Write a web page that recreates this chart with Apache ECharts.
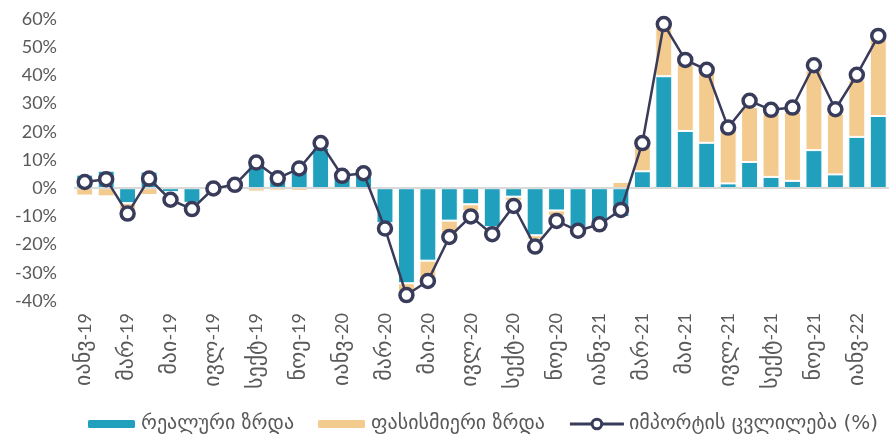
<!DOCTYPE html>
<html>
<head>
<meta charset="utf-8">
<script src="https://cdn.jsdelivr.net/npm/echarts@6/dist/echarts.min.js"></script>
<style>
  html, body { margin: 0; padding: 0; background: #fff; }
  #chart { width: 889px; height: 447px; }
</style>
</head>
<body>
<div id="chart"></div>
<script>
(function () {
  'use strict';

  // თვეები (იანვ-19 ... თებ-22)
  var months = ['იანვ', 'თებ', 'მარ', 'აპრ', 'მაი', 'ივნ', 'ივლ', 'აგვ', 'სექტ', 'ოქტ', 'ნოე', 'დეკ'];
  var categories = [];
  ['19', '20', '21', '22'].forEach(function (yr) {
    months.forEach(function (m) { categories.push(m + '-' + yr); });
  });
  categories = categories.slice(0, 38);

  // რეალური ზრდა
  var realGrowth = [4.8, 6.2, -5.3, 5.9, -1.4, -5.2, 0.5, 1.5, 8.3, 3.0, 6.0, 14.4,
    4.0, 4.5, -12.4, -33.7, -25.7, -11.5, -5.7, -13.8, -3.0, -16.7, -7.9, -14.0,
    -13.5, -10.2, 6.0, 39.7, 20.3, 16.1, 1.7, 9.3, 4.0, 2.6, 13.5, 4.9,
    18.2, 25.6];

  // ფასისმიერი ზრდა
  var priceGrowth = [-2.6, -2.9, -2.5, -2.4, -0.5, -0.8, -0.6, -0.7, -1.2, -0.9, -1.0, 0,
    0, 0, -0.8, -3.0, -6.8, -5.5, -2.5, -1.0, -1.5, -1.5, -2.0, -0.5,
    0.8, 2.2, 9.0, 18.5, 23.9, 25.1, 18.9, 19.5, 22.5, 24.5, 28.3, 21.6,
    20.1, 27.5];

  // იმპორტის ცვლილება (%)
  var importChange = [2.2, 3.2, -9.0, 3.4, -4.1, -7.4, -0.1, 1.2, 9.1, 3.5, 7.0, 16.0,
    4.4, 5.3, -14.3, -37.9, -32.9, -17.3, -10.0, -16.3, -6.3, -20.7, -11.6, -15.1,
    -12.8, -7.7, 16.0, 58.2, 45.5, 42.0, 21.5, 31.0, 27.8, 28.6, 43.6, 28.0,
    40.2, 54.0];

  var seriesNames = ['რეალური ზრდა', 'ფასისმიერი ზრდა', 'იმპორტის ცვლილება (%)'];

  var font = 'Lato, "DejaVu Sans", sans-serif';
  var geoFont = '"DejaVu Sans", sans-serif';
  var lineColor = '#383b5a';
  var myChart = echarts.init(document.getElementById('chart'));

  var legendText = { fontSize: 20, color: '#595959', fontFamily: geoFont };

  var option = {
    animation: false,
    color: ['#21a0bd', '#f3cb8f', lineColor],
    textStyle: { fontFamily: font },
    grid: { left: 74, right: 0, top: 19, bottom: 146 },
    legend: [
      {
        left: 81,
        bottom: 8,
        itemWidth: 49,
        itemHeight: 10,
        itemGap: 22,
        textStyle: legendText,
        data: [seriesNames[0], seriesNames[1]]
      },
      {
        right: 6,
        bottom: 8,
        itemWidth: 54,
        itemHeight: 12,
        textStyle: legendText,
        data: [{
          name: seriesNames[2],
          itemStyle: { color: '#fff', borderColor: lineColor, borderWidth: 3 },
          lineStyle: { width: 3, color: lineColor }
        }]
      }
    ],
    xAxis: {
      type: 'category',
      data: categories,
      axisLine: { show: false, onZero: false },
      axisTick: { show: false },
      axisLabel: {
        interval: 1,
        rotate: 90,
        margin: 12,
        color: '#595959',
        formatter: function (v) {
          var i = v.lastIndexOf('-');
          return '{g|' + v.slice(0, i) + '}{d|' + v.slice(i) + '}';
        },
        rich: {
          g: { fontSize: 22, fontFamily: geoFont, color: '#595959' },
          d: { fontSize: 18, fontFamily: font, color: '#595959' }
        }
      }
    },
    yAxis: {
      type: 'value',
      min: -40,
      max: 60,
      interval: 10,
      axisLine: { show: false },
      axisTick: { show: false },
      splitLine: { show: false },
      axisLabel: {
        formatter: '{value}%',
        fontSize: 18,
        color: '#595959',
        margin: 17
      }
    },
    series: [
      {
        name: seriesNames[0],
        type: 'bar',
        stack: 'total',
        barWidth: '79%',
        data: realGrowth,
        itemStyle: { borderColor: '#fff', borderWidth: 1 },
        markLine: {
          silent: true,
          symbol: 'none',
          label: { show: false },
          lineStyle: { color: '#d9d9d9', width: 2, type: 'solid' },
          data: [{ yAxis: 0 }]
        }
      },
      {
        name: seriesNames[1],
        type: 'bar',
        stack: 'total',
        data: priceGrowth,
        itemStyle: { borderColor: '#fff', borderWidth: 1 }
      },
      {
        name: seriesNames[2],
        type: 'line',
        data: importChange,
        symbol: 'circle',
        symbolSize: 13,
        showAllSymbol: true,
        lineStyle: { width: 2.5, color: lineColor },
        itemStyle: { color: '#fff', borderColor: lineColor, borderWidth: 3.5 },
        z: 5
      }
    ]
  };

  myChart.setOption(option);
}());
</script>
</body>
</html>
